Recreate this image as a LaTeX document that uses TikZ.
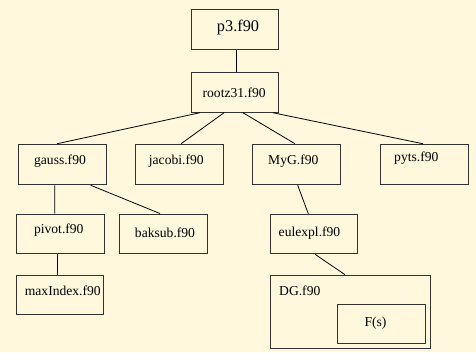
\documentclass[tikz,border=0pt]{standalone}
\usepackage{fontspec}
\setmainfont{Liberation Serif}
\definecolor{bgc}{HTML}{FFF8DC}
\definecolor{bordc}{HTML}{333333}
\begin{document}
\begin{tikzpicture}[x=1bp,y=-1bp,
  box/.style={draw=bordc,line width=1bp,rectangle,minimum width=87.5bp,minimum height=39.5bp,inner sep=0pt},
  lbl/.style={font=\fontsize{13.6bp}{16bp}\selectfont,inner sep=0pt},
  big/.style={font=\fontsize{16.3bp}{19bp}\selectfont,inner sep=0pt},
  conn/.style={draw=black,line width=0.8bp}]
\fill[bgc] (0,0) rectangle (476,352);
\useasboundingbox (0,0) rectangle (476,352);
\node[box,label={[big,xshift=3bp,yshift=2.7bp]center:p3.f90}] (p3) at (235,29.7) {};
\node[box,label={[lbl,xshift=-0.8bp]center:rootz31.f90}] (rootz) at (235,92.5) {};
\node[box,minimum height=40.5bp,label={[lbl,xshift=-2.5bp,yshift=3.5bp]center:gauss.f90}] (gauss) at (62.5,164.5) {};
\node[box,minimum height=40.5bp,label={[lbl,xshift=-3bp,yshift=3.5bp]center:jacobi.f90}] (jacobi) at (179.3,164.5) {};
\node[box,minimum height=40.5bp,label={[lbl,xshift=-3bp,yshift=3.5bp]center:MyG.f90}] (myg) at (296.3,164.5) {};
\node[box,minimum height=40.5bp,label={[lbl,xshift=-8bp,yshift=6bp]center:pyts.f90}] (pyts) at (424.3,164.5) {};
\node[box,label={[lbl,xshift=-1.5bp,yshift=3.8bp]center:pivot.f90}] (pivot) at (60.3,233.8) {};
\node[box,label={[lbl,xshift=1.7bp,yshift=1.3bp]center:baksub.f90}] (baksub) at (163.3,233.8) {};
\node[box,label={[lbl,xshift=2.6bp,yshift=4.1bp]center:maxIndex.f90}] (maxidx) at (60.2,294.8) {};
\node[box,label={[lbl,xshift=-4.7bp,yshift=1.3bp]center:eulexpl.f90}] (eulexpl) at (314.2,234) {};
\node[box,minimum width=160bp,minimum height=73.3bp,label={[lbl,anchor=west,xshift=9bp,yshift=-16.5bp]north west:DG.f90}] (dg) at (350.5,311.8) {};
\node[box,label={[lbl,xshift=-6.2bp,yshift=0.7bp]center:F(s)}] (fs) at (381.7,324) {};
\draw[conn] ([xshift=1.5bp]p3.south) -- ([xshift=1.5bp]rootz.north);
\draw[conn] ([xshift=9bp]rootz.south west) -- ([xshift=-5.5bp]gauss.north);
\draw[conn] ([xshift=-11bp]rootz.south) -- ([xshift=1.7bp]jacobi.north);
\draw[conn] ([xshift=8bp]rootz.south) -- ([xshift=-1.3bp]myg.north);
\draw[conn] ([xshift=38bp]rootz.south) -- ([xshift=-1.3bp]pyts.north);
\draw[conn] ([xshift=-7.8bp]gauss.south) -- ([xshift=-5.6bp]pivot.north);
\draw[conn] ([xshift=28.2bp]gauss.south) -- ([xshift=-3.3bp]baksub.north);
\draw[conn] ([xshift=1.4bp]myg.south) -- ([xshift=-5.9bp]eulexpl.north);
\draw[conn] ([xshift=-3.3bp]pivot.south) -- ([xshift=-3.2bp]maxidx.north);
\draw[conn] ([xshift=0.8bp]eulexpl.south) -- ([xshift=-5.5bp]dg.north);
\end{tikzpicture}
\end{document}
